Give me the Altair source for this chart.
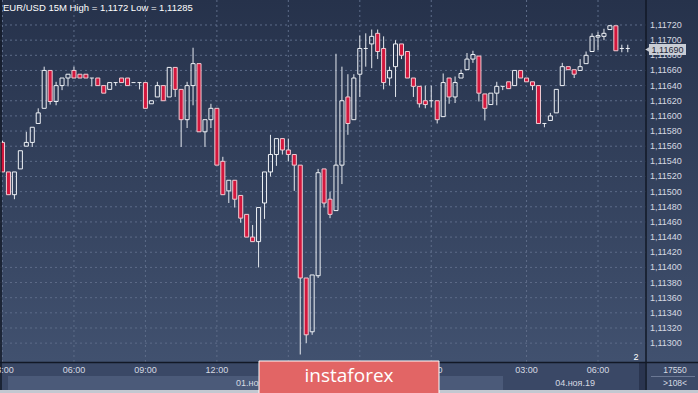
import altair as alt
import pandas as pd

# ---- data (EUR/USD 15M candles) ----
idx = list(range(106))
open_ = [1.11565, 1.11526, 1.11496, 1.11530, 1.11560, 1.11565, 1.11590, 1.11610, 1.11660, 1.11619,
         1.11640, 1.11650, 1.11660, 1.11655, 1.11655, 1.11650, 1.11650, 1.11640, 1.11635, 1.11644,
         1.11650, 1.11650, 1.11644, 1.11644, 1.11644, 1.11616, 1.11625, 1.11640, 1.11625, 1.11664,
         1.11635, 1.11595, 1.11640, 1.11669, 1.11579, 1.11595, 1.11610, 1.11540, 1.11501, 1.11515,
         1.11495, 1.11470, 1.11440, 1.11434, 1.11485, 1.11526, 1.11549, 1.11570, 1.11555, 1.11549,
         1.11535, 1.11386, 1.11315, 1.11389, 1.11530, 1.11490, 1.11475, 1.11535, 1.11625, 1.11595,
         1.11655, 1.11689, 1.11695, 1.11709, 1.11689, 1.11650, 1.11665, 1.11695, 1.11685, 1.11650,
         1.11639, 1.11620, 1.11620, 1.11620, 1.11599, 1.11650, 1.11625, 1.11650, 1.11661, 1.11675,
         1.11679, 1.11629, 1.11615, 1.11630, 1.11639, 1.11645, 1.11640, 1.11660, 1.11650, 1.11645,
         1.11640, 1.11590, 1.11594, 1.11604, 1.11640, 1.11665, 1.11661, 1.11660, 1.11669, 1.11685,
         1.11704, 1.11705, 1.11714, 1.11719, 1.11689, 1.11689]
high = [1.11567, 1.11526, 1.11526, 1.11554, 1.11579, 1.11585, 1.11610, 1.11665, 1.11660, 1.11645,
        1.11650, 1.11655, 1.11665, 1.11655, 1.11655, 1.11650, 1.11650, 1.11640, 1.11644, 1.11644,
        1.11650, 1.11650, 1.11644, 1.11644, 1.11644, 1.11620, 1.11645, 1.11640, 1.11664, 1.11664,
        1.11635, 1.11645, 1.11690, 1.11669, 1.11595, 1.11616, 1.11610, 1.11546, 1.11515, 1.11515,
        1.11495, 1.11470, 1.11456, 1.11479, 1.11526, 1.11575, 1.11570, 1.11570, 1.11570, 1.11549,
        1.11535, 1.11386, 1.11390, 1.11530, 1.11530, 1.11500, 1.11682, 1.11665, 1.11655, 1.11655,
        1.11706, 1.11709, 1.11714, 1.11714, 1.11705, 1.11665, 1.11700, 1.11695, 1.11685, 1.11650,
        1.11639, 1.11640, 1.11640, 1.11620, 1.11656, 1.11650, 1.11652, 1.11661, 1.11683, 1.11686,
        1.11679, 1.11629, 1.11630, 1.11645, 1.11639, 1.11645, 1.11660, 1.11660, 1.11650, 1.11645,
        1.11640, 1.11590, 1.11604, 1.11635, 1.11670, 1.11665, 1.11661, 1.11675, 1.11685, 1.11709,
        1.11711, 1.11715, 1.11720, 1.11719, 1.11694, 1.11694]
low = [1.11526, 1.11496, 1.11490, 1.11530, 1.11560, 1.11559, 1.11590, 1.11610, 1.11615, 1.11614,
       1.11634, 1.11639, 1.11650, 1.11650, 1.11650, 1.11639, 1.11640, 1.11630, 1.11635, 1.11640,
       1.11644, 1.11640, 1.11644, 1.11635, 1.11610, 1.11616, 1.11625, 1.11620, 1.11625, 1.11625,
       1.11559, 1.11584, 1.11614, 1.11579, 1.11559, 1.11584, 1.11535, 1.11496, 1.11485, 1.11479,
       1.11459, 1.11440, 1.11434, 1.11400, 1.11464, 1.11520, 1.11534, 1.11549, 1.11540, 1.11501,
       1.11285, 1.11300, 1.11311, 1.11386, 1.11479, 1.11465, 1.11475, 1.11510, 1.11575, 1.11595,
       1.11625, 1.11665, 1.11663, 1.11675, 1.11635, 1.11640, 1.11625, 1.11675, 1.11650, 1.11625,
       1.11611, 1.11610, 1.11611, 1.11590, 1.11599, 1.11616, 1.11617, 1.11650, 1.11661, 1.11670,
       1.11619, 1.11594, 1.11615, 1.11614, 1.11634, 1.11636, 1.11640, 1.11650, 1.11645, 1.11634,
       1.11590, 1.11585, 1.11594, 1.11604, 1.11640, 1.11661, 1.11650, 1.11660, 1.11669, 1.11685,
       1.11687, 1.11700, 1.11714, 1.11686, 1.11684, 1.11684]
close = [1.11526, 1.11496, 1.11526, 1.11554, 1.11565, 1.11585, 1.11604, 1.11660, 1.11619, 1.11640,
         1.11650, 1.11655, 1.11650, 1.11650, 1.11650, 1.11650, 1.11640, 1.11630, 1.11644, 1.11644,
         1.11644, 1.11640, 1.11644, 1.11644, 1.11610, 1.11620, 1.11640, 1.11620, 1.11664, 1.11635,
         1.11595, 1.11640, 1.11669, 1.11579, 1.11595, 1.11610, 1.11535, 1.11496, 1.11515, 1.11490,
         1.11465, 1.11440, 1.11434, 1.11479, 1.11526, 1.11549, 1.11570, 1.11555, 1.11549, 1.11535,
         1.11386, 1.11311, 1.11390, 1.11525, 1.11485, 1.11470, 1.11535, 1.11620, 1.11590, 1.11650,
         1.11689, 1.11689, 1.11705, 1.11685, 1.11644, 1.11660, 1.11695, 1.11680, 1.11650, 1.11639,
         1.11616, 1.11615, 1.11620, 1.11595, 1.11644, 1.11625, 1.11644, 1.11656, 1.11675, 1.11681,
         1.11630, 1.11610, 1.11630, 1.11639, 1.11639, 1.11636, 1.11660, 1.11650, 1.11645, 1.11640,
         1.11590, 1.11590, 1.11600, 1.11635, 1.11665, 1.11661, 1.11655, 1.11665, 1.11680, 1.11705,
         1.11706, 1.11709, 1.11719, 1.11686, 1.11689, 1.11689]

tick_idx = [0, 12, 24, 36, 48, 60, 72, 88, 100]
tick_lab = ["03:00", "06:00", "09:00", "12:00", "15:00", "18:00", "21:00", "03:00", "06:00"]
y_ticks = [1.11300, 1.11320, 1.11340, 1.11360, 1.11380, 1.11400, 1.11420, 1.11440, 1.11460,
           1.11480, 1.11500, 1.11520, 1.11540, 1.11560, 1.11580, 1.11600, 1.11620, 1.11640,
           1.11660, 1.11680, 1.11700, 1.11720]
date_labels = ["01.ноя.19", "04.ноя.19"]
date_idx = [39.2, 92.8]

title_text = "EUR/USD 15M High = 1,1172 Low = 1,11285"
last_price = "1,11690"

# ---- frames ----
df = pd.DataFrame({"i": idx, "o": open_, "h": high, "l": low, "c": close})
ydf = pd.DataFrame({"v": y_ticks})
xdf = pd.DataFrame({"i": tick_idx, "lab": tick_lab})
ddf = pd.DataFrame({"i": date_idx, "lab": date_labels})
one = pd.DataFrame({"k": [0]})

W, H = 646, 362
xs = alt.Scale(domain=[-0.42, 108.06], nice=False, zero=False)
ys = alt.Scale(domain=[1.112751, 1.11753], nice=False, zero=False)
FONT = "Liberation Sans"
TXT = "#d6dae2"


def deco_rect(x, x2, y, y2, **kw):
    return alt.Chart(one).mark_rect(**kw).encode(
        x=alt.value(x), x2=alt.value(x2), y=alt.value(y), y2=alt.value(y2))


def deco_text(x, y, text, **kw):
    return alt.Chart(one).mark_text(text=text, font=FONT, **kw).encode(
        x=alt.value(x), y=alt.value(y))


grad = alt.LinearGradient(
    gradient="linear",
    stops=[alt.GradientStop(color="#26324b", offset=0),
           alt.GradientStop(color="#41516f", offset=1)],
    x1=0, x2=0, y1=0, y2=1)

bg = deco_rect(0, 698, 0, H, color=grad)
bottom_row = deco_rect(0, 698, H, 393, color="#3a4866")
date_strip = deco_rect(8, 503, 376, 390, color="#4b5a79")
bottom_border = deco_rect(0, 698, 390, 393, color="#c3c8d1")
scroll_band = deco_rect(639, 645, H, 390, color="#2a3550")
right_bottom = deco_rect(647, 698, H + 1, 390, color="#3c4a68")

hgrid = alt.Chart(ydf).mark_rule(strokeDash=[2, 3], color="#5d6c89", strokeWidth=1).encode(
    y=alt.Y("v:Q", scale=ys, axis=None), x=alt.value(0), x2=alt.value(W))
vgrid = alt.Chart(xdf).mark_rule(strokeDash=[2, 3], color="#5d6c89", strokeWidth=1).encode(
    x=alt.X("i:Q", scale=xs, axis=None), y=alt.value(0), y2=alt.value(H))

vborder = alt.Chart(one).mark_rule(color="#121826", strokeWidth=1.5).encode(
    x=alt.value(646), y=alt.value(0), y2=alt.value(390))
hborder = alt.Chart(one).mark_rule(color="#121826", strokeWidth=1.5).encode(
    x=alt.value(0), x2=alt.value(698), y=alt.value(362.5))
lborder = alt.Chart(one).mark_rule(color="#121826", strokeWidth=1.5).encode(
    x=alt.value(1), y=alt.value(0), y2=alt.value(390))

base = alt.Chart(df).transform_calculate(
    top="max(datum.o, datum.c)", bot="min(datum.o, datum.c)",
    x0="datum.i - 0.34", x1="datum.i + 0.34")

WICK = "#e4e8ee"
up_wick = base.mark_rule(color=WICK, strokeWidth=1).encode(
    x=alt.X("i:Q", scale=xs, axis=None), y=alt.Y("h:Q", scale=ys, axis=None), y2="top:Q")
lo_wick = base.mark_rule(color=WICK, strokeWidth=1).encode(
    x=alt.X("i:Q", scale=xs, axis=None), y=alt.Y("bot:Q", scale=ys, axis=None), y2="l:Q")

up_body = base.transform_filter("datum.c > datum.o").mark_rect(
    fill="#ffffff", fillOpacity=0, stroke="#eef1f5", strokeWidth=1).encode(
    x=alt.X("x0:Q", scale=xs, axis=None), x2="x1:Q",
    y=alt.Y("o:Q", scale=ys, axis=None), y2="c:Q")
dn_body = base.transform_filter("datum.c < datum.o").mark_rect(
    fill="#d3173d", stroke="#f2cdd4", strokeWidth=1).encode(
    x=alt.X("x0:Q", scale=xs, axis=None), x2="x1:Q",
    y=alt.Y("o:Q", scale=ys, axis=None), y2="c:Q")
doji = base.transform_filter("datum.c == datum.o").mark_rule(
    color="#eef1f5", strokeWidth=1).encode(
    x=alt.X("x0:Q", scale=xs, axis=None), x2="x1:Q",
    y=alt.Y("c:Q", scale=ys, axis=None))

ylab = alt.Chart(ydf).transform_calculate(
    lab="replace(format(datum.v, '.5f'), '.', ',')").mark_text(
    align="left", baseline="middle", font=FONT, fontSize=9, color=TXT).encode(
    y=alt.Y("v:Q", scale=ys, axis=None), x=alt.value(650), text="lab:N")
xlab = alt.Chart(xdf).mark_text(
    align="center", baseline="middle", font=FONT, fontSize=9, color=TXT).encode(
    x=alt.X("i:Q", scale=xs, axis=None), y=alt.value(370), text="lab:N")
dlab = alt.Chart(ddf).mark_text(
    align="left", baseline="middle", font=FONT, fontSize=9, color=TXT).encode(
    x=alt.X("i:Q", scale=xs, axis=None), y=alt.value(383), text="lab:N")

title = deco_text(3, 8, title_text, align="left", baseline="middle", fontSize=9.5, color="#ffffff")
two = deco_text(636, 357, "2", align="center", baseline="middle", fontSize=9, color="#ffffff")
vol = deco_text(675, 370, "17550", align="center", baseline="middle", fontSize=8.5, color=TXT)
sep = alt.Chart(one).mark_rule(color="#6b7894", strokeWidth=1).encode(
    x=alt.value(651), x2=alt.value(695), y=alt.value(376.5))
vol2 = deco_text(675, 383, ">108<", align="center", baseline="middle", fontSize=8.5, color=TXT)

price_box = deco_rect(649, 686, 44, 55, color="#c9cdd5")
price_tri = alt.Chart(one).mark_point(shape="triangle-left", filled=True, color="#c9cdd5",
                                      size=40, opacity=1).encode(
    x=alt.value(648), y=alt.value(49.5))
price_txt = deco_text(667.5, 49.5, last_price, align="center", baseline="middle",
                      fontSize=9, color="#1d2535")

logo_box = deco_rect(259, 439, 361, 394, color="#e26565", stroke="#ffffff", strokeWidth=1)
logo_txt = alt.Chart(one).mark_text(text="instaforex", font="Open Sans", fontSize=19,
                                    color="#ffffff", align="center", baseline="middle").encode(
    x=alt.value(349), y=alt.value(376))

chart = alt.layer(
    bg, bottom_row, date_strip, bottom_border, scroll_band, right_bottom,
    hgrid, vgrid,
    up_wick, lo_wick, up_body, dn_body, doji,
    vborder, hborder, lborder,
    title, ylab, xlab, dlab, two, vol, sep, vol2,
    price_box, price_tri, price_txt,
    logo_box, logo_txt,
).properties(
    width=W, height=H,
    padding={"left": 0, "top": 0, "right": 52, "bottom": 31},
    autosize=alt.AutoSizeParams(type="none"),
).configure_view(strokeWidth=0).configure(background="#3a4866")

chart.save("out.html", embed_options={"renderer": "svg", "actions": False})
